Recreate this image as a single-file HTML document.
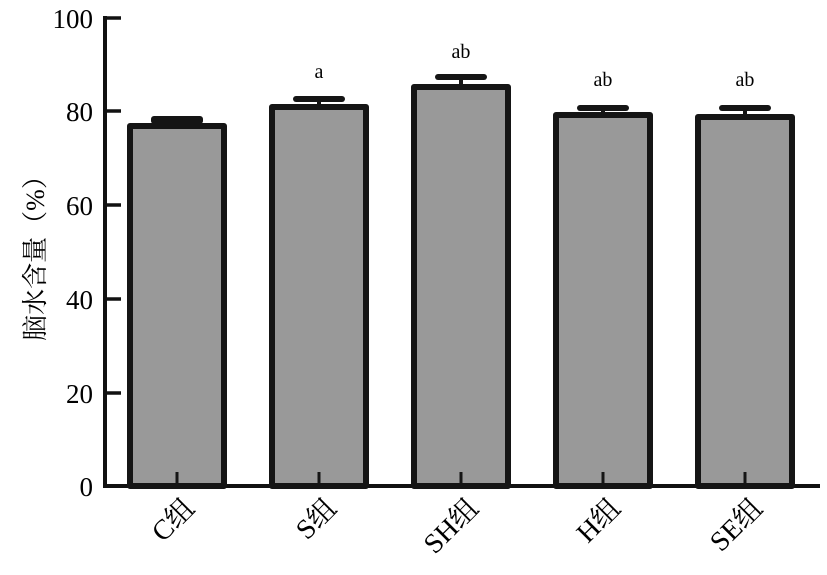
<!DOCTYPE html>
<html><head><meta charset="utf-8"><style>body{margin:0;background:#fff}</style></head><body>
<svg width="827" height="570" xmlns="http://www.w3.org/2000/svg" style="font-family:'Liberation Serif','Noto Serif CJK SC',serif">
<rect width="827" height="570" fill="#fff"/>
<line x1="105" y1="16" x2="105" y2="488" stroke="#111" stroke-width="4"/>
<line x1="103" y1="486" x2="820" y2="486" stroke="#111" stroke-width="4"/>
<g stroke="#111" stroke-width="3.5">
<line x1="105" y1="18" x2="121" y2="18"/><line x1="105" y1="111" x2="121" y2="111"/><line x1="105" y1="205" x2="121" y2="205"/><line x1="105" y1="299" x2="121" y2="299"/><line x1="105" y1="393" x2="121" y2="393"/>
</g>
<g font-size="27" text-anchor="end" fill="#000">
<text x="93" y="28">100</text><text x="93" y="121">80</text><text x="93" y="215">60</text><text x="93" y="309">40</text><text x="93" y="403">20</text><text x="93" y="496">0</text>
</g>
<text transform="translate(44,252) rotate(-90)" font-size="26" text-anchor="middle" fill="#000">脑水含量（%）</text>
<g fill="#999" stroke="#151515" stroke-width="6" stroke-linejoin="round">
<rect x="130" y="126" width="94" height="360"/>
<rect x="272" y="107" width="94" height="379"/>
<rect x="414" y="87" width="94" height="399"/>
<rect x="556" y="115" width="94" height="371"/>
<rect x="698" y="117" width="94" height="369"/>
</g>
<g fill="#151515">
<rect x="151" y="116" width="52" height="8" rx="3"/>
<rect x="293" y="96" width="52" height="6" rx="3"/><rect x="317" y="100" width="4" height="6"/>
<rect x="435" y="74" width="52" height="6" rx="3"/><rect x="459" y="78" width="4" height="8"/>
<rect x="577" y="105" width="52" height="6" rx="3"/><rect x="601" y="109" width="4" height="6"/>
<rect x="719" y="105" width="52" height="6" rx="3"/><rect x="743" y="109" width="4" height="8"/>
</g>
<g stroke="#151515" stroke-width="3">
<line x1="177" y1="472" x2="177" y2="486"/><line x1="319" y1="472" x2="319" y2="486"/><line x1="461" y1="472" x2="461" y2="486"/><line x1="603" y1="472" x2="603" y2="486"/><line x1="745" y1="472" x2="745" y2="486"/>
</g>
<g font-size="20" text-anchor="middle" fill="#000">
<text x="319" y="78">a</text><text x="461" y="58">ab</text><text x="603" y="86">ab</text><text x="745" y="86">ab</text>
</g>
<g font-size="28" text-anchor="end" fill="#000">
<text transform="translate(196,510) rotate(-45)">C组</text>
<text transform="translate(338,510) rotate(-45)">S组</text>
<text transform="translate(480,510) rotate(-45)">SH组</text>
<text transform="translate(622,510) rotate(-45)">H组</text>
<text transform="translate(764,510) rotate(-45)">SE组</text>
</g>
</svg>
</body></html>
